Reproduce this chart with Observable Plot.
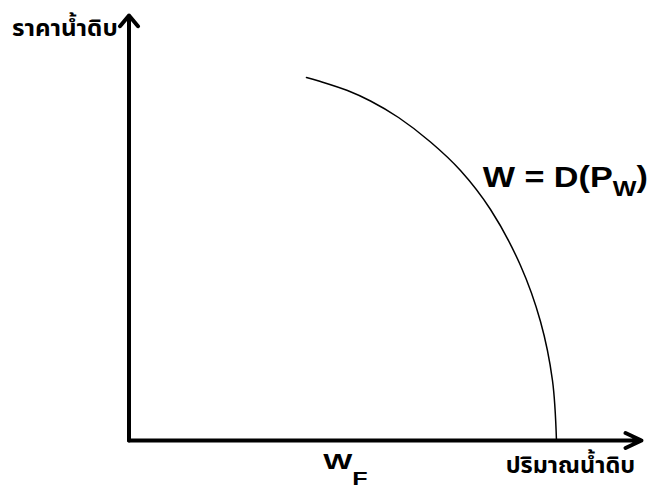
<!DOCTYPE html>
<html><head><meta charset="utf-8">
<script src="https://cdn.jsdelivr.net/npm/d3@7"></script>
<script src="https://cdn.jsdelivr.net/npm/@observablehq/plot@0.6"></script>
<style>body{margin:0;background:#fff} svg{display:block}</style>
</head><body><div id="chart"></div>
<script>
// Demand curve for raw water (axis units 0..10)
const quantity = [3.463, 3.737, 4.263, 4.712, 5.259, 5.883, 6.468, 7.054, 7.639, 8.029, 8.263, 8.341];
const price    = [8.541, 8.447, 8.235, 7.988, 7.600, 7.024, 6.353, 5.435, 4.118, 2.800, 1.412, 0];
const axisMax = 10;
const yLabel = "ราคาน้ำดิบ";
const xLabel = "ปริมาณน้ำดิบ";
const curveLabel = ["W = D(P", "W", ")"];
const pointLabel = ["W", "F"];

const curve = quantity.map((q, i) => ({q, p: price[i]}));
const thai = "'Noto Sans Thai', 'Noto Sans Thai UI', Loma, Tahoma, 'DejaVu Sans', sans-serif";
const latin = "'Liberation Sans', Arial, sans-serif";

const chart = Plot.plot({
  width: 651, height: 488,
  marginLeft: 128.5, marginRight: 10, marginTop: 15, marginBottom: 48,
  x: {domain: [0, axisMax], axis: null},
  y: {domain: [0, axisMax], axis: null},
  style: {background: "white", overflow: "visible"},
  marks: [
    Plot.line(curve, {x: "q", y: "p", curve: "catmull-rom", stroke: "black", strokeWidth: 1.5}),
    Plot.arrow([0], {x1: 0, y1: 0, x2: axisMax, y2: 0, stroke: "black", strokeWidth: 4, headAngle: 50, headLength: 6.6}),
    Plot.arrow([0], {x1: 0, y1: 0, x2: 0, y2: axisMax, stroke: "black", strokeWidth: 4, headAngle: 80, headLength: 5.25}),
    Plot.text([yLabel], {x: -0.22, y: 9.506, text: d => d, textAnchor: "end", fontSize: 23, fontWeight: "bold", fontFamily: thai, fill: "black"}),
    Plot.text([xLabel], {x: 7.35, y: -0.776, text: d => d, textAnchor: "start", fontSize: 23, fontWeight: "bold", fontFamily: thai, fill: "black"}),
    Plot.text([curveLabel], {x: 6.9, y: 5.953, text: d => d.join(""), textAnchor: "start", fontSize: 30, fontWeight: "bold", fontFamily: latin, fill: "black"}),
    Plot.text([pointLabel], {x: 3.79, y: -0.659, text: d => d.join(""), textAnchor: "start", fontSize: 22, fontWeight: "bold", fontFamily: latin, fill: "black"})
  ]
});
document.getElementById("chart").appendChild(chart);

const svg = d3.select(chart);
// the anchor point is the text baseline; font settings inline on each text
const fonts = new Map([[yLabel, [thai, 23]], [xLabel, [thai, 23]], [curveLabel.join(""), [latin, 30]], [pointLabel.join(""), [latin, 22]]]);
const stretch = new Map([[yLabel, 1.05], [xLabel, 1.02], [curveLabel.join(""), 1.14], [pointLabel.join(""), 1.4]]);
svg.selectAll("text").each(function() {
  this.removeAttribute("y");
  this.removeAttribute("dy");
  const f = fonts.get(this.textContent);
  if (f) this.setAttribute("style", `font-family:${f[0]};font-size:${f[1]}px;font-weight:700;fill:#000`);
  const s = stretch.get(this.textContent);
  if (s) this.setAttribute("transform", (this.getAttribute("transform") || "") + ` scale(${s},1)`);
});
function subscript(parts, subSize, shift) {
  svg.selectAll("text").filter(function() { return this.textContent === parts.join(""); }).each(function() {
    const t = d3.select(this);
    t.text(null);
    t.append("tspan").text(parts[0]);
    t.append("tspan").style("font-size", subSize + "px").attr("dy", shift).text(parts[1]);
    if (parts[2]) t.append("tspan").attr("dy", -shift).text(parts[2]);
  });
}
subscript(curveLabel, 22, 8);
subscript(pointLabel, 18, 16);
// force layout so the text is measured with its final fonts
svg.selectAll("text").each(function() { this.getBBox(); getComputedStyle(this).fontWeight; });
</script></body></html>
